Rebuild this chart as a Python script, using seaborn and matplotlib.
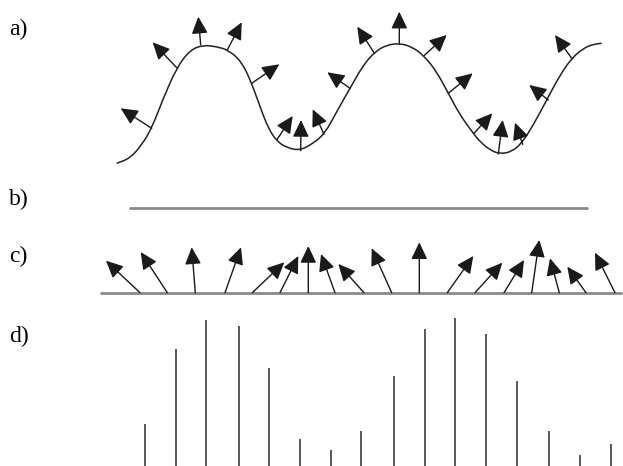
import numpy as np
import pandas as pd
import seaborn as sns
import matplotlib.pyplot as plt
from matplotlib.path import Path
from matplotlib.patches import PathPatch

# panel a: wavy surface (pixel coords, y down)
wave_x = [116.7, 130, 141.7, 151.7, 163.3, 176.7, 190, 203.3, 216.7, 228.3, 241.7,
          251.7, 260, 268.3, 276.7, 286.7, 300, 313.3, 325, 336.7, 350, 363.3,
          375, 386.7, 399.3, 411.7, 424, 436.7, 448.3, 460, 473.3, 480, 490, 500,
          511.7, 521.7, 533.3, 546.7, 560, 571.7, 583.3, 593.3, 601.7]
wave_y = [163.3, 158.3, 145, 128.3, 98.3, 67.7, 50, 45, 46.7, 50, 61.7,
          83.3, 106.7, 128.3, 141, 147.7, 150.5, 143.3, 133.3, 111.7, 88.3, 65,
          51.7, 45, 43.3, 46.7, 55.7, 71.7, 93.3, 115, 133.3, 141.7, 150, 154,
          151.7, 143.3, 125, 100, 75, 58.3, 48.3, 44.3, 43.3]

# normals on the wave: base -> tip
a_base_x = [151.7, 176.7, 200.7, 227.3, 251.7, 276.7, 300.7, 324, 350, 374,
            399.3, 424, 448.3, 474, 498.3, 522.7, 548.3, 571.7]
a_base_y = [128.3, 67.7, 45, 50, 83.3, 140, 150.7, 134.3, 88.3, 52.7,
            43.3, 55.7, 93.3, 133.3, 154, 144.3, 100, 58.3]
a_tip_x = [120.7, 152.7, 198.3, 241.7, 279.3, 292.7, 301, 312.7, 327.3, 357.3,
           399.3, 446.7, 472.7, 492.3, 502.7, 515, 529.3, 555]
a_tip_y = [108.3, 42.3, 16.7, 22.3, 64.3, 116, 120, 109.3, 72.3, 26.7,
           11.7, 35, 73.3, 113.3, 120, 122.7, 85, 35]

# panel b: flat line
b_x = [130, 587]
b_y = [207.7, 207.7]

# panel c: flat surface with the same normals laid out
c_line_x = [101, 621]
c_line_y = 292.7
c_base_x = [140, 167.3, 195.3, 225, 252.3, 280, 308.3, 335, 364, 391.7,
            419.3, 447.3, 475, 504, 531.7, 559.3, 586, 615]
c_tip_x = [106, 140.7, 191.7, 241, 284.3, 298.3, 308.3, 321, 338.3, 371.7,
           419.3, 473.3, 502.3, 524, 539.3, 550, 567.3, 595]
c_tip_y = [260.7, 252, 247.3, 247.3, 262.3, 256, 246, 254, 264, 248.3,
           242.3, 256, 262.7, 260, 240, 258.3, 266.7, 252.7]

# panel d: stick heights
d_x = [145, 175.7, 206.3, 238.7, 269.3, 300, 330.7, 361.3, 393.7, 424.7,
       455.3, 486, 516.7, 549, 580, 610.7]
d_h = [42, 117, 146, 140, 98, 27, 16, 35, 90, 137, 148, 132, 85, 35, 11, 22]
d_base = 466

labels = ["a)", "b)", "c)", "d)"]
label_y = [29.5, 199, 256.5, 336]

sns.set_theme(style="white")
plt.rcParams['font.family'] = ['Liberation Serif', 'DejaVu Serif']

fig = plt.figure(figsize=(6.23, 4.66), dpi=100)
ax = fig.add_axes([0, 0, 1, 1])
ax.set_xlim(0, 623)
ax.set_ylim(466, 0)
ax.axis("off")

# smooth the read points with a quadratic b-spline style path
pts = np.column_stack([wave_x, wave_y])
verts = [pts[0], (pts[0] + pts[1]) / 2]
codes = [Path.MOVETO, Path.LINETO]
for i in range(1, len(pts) - 1):
    verts += [pts[i], (pts[i] + pts[i + 1]) / 2]
    codes += [Path.CURVE3, Path.CURVE3]
verts.append(pts[-1])
codes.append(Path.LINETO)
ax.add_patch(PathPatch(Path(verts, codes), fill=False, edgecolor="#222222", lw=1.1))

arrow = dict(arrowstyle="-|>,head_length=0.8,head_width=0.38", mutation_scale=13,
             lw=1.0, color="#1a1a1a", shrinkA=0, shrinkB=0)
for bx, by, tx, ty in zip(a_base_x, a_base_y, a_tip_x, a_tip_y):
    ax.annotate("", xy=(tx, ty), xytext=(bx, by), arrowprops=arrow)

ax.plot(b_x, b_y, color="#8a8a8a", lw=2)

ax.plot(c_line_x, [c_line_y, c_line_y], color="#8a8a8a", lw=2, zorder=1)
for bx, tx, ty in zip(c_base_x, c_tip_x, c_tip_y):
    ax.annotate("", xy=(tx, ty), xytext=(bx, c_line_y), arrowprops=arrow)

d_top = [d_base - h for h in d_h]
ax.vlines(d_x, d_top, d_base, color="#4a4a4a", lw=1.3)

for lab, ly in zip(labels, label_y):
    ax.text(9, ly, lab, fontsize=17, va="center", ha="left", color="black")

fig.savefig("out.png", dpi=100)
